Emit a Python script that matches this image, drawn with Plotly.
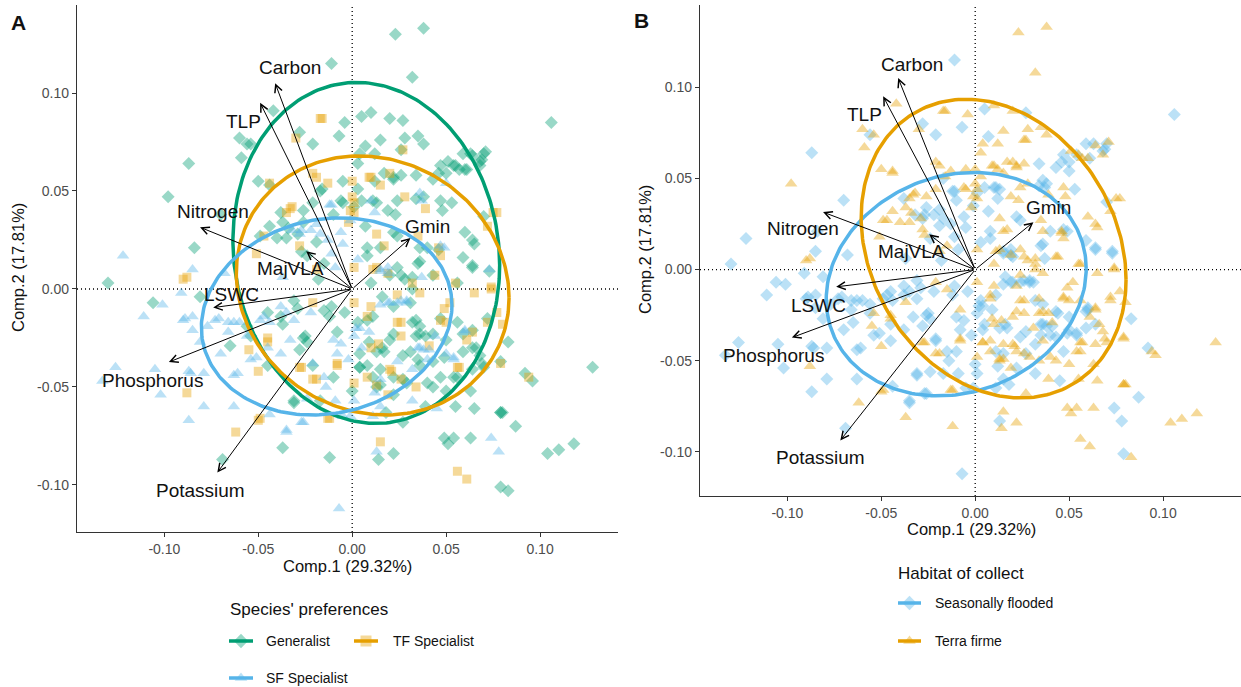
import numpy as np
import plotly.graph_objects as go

# ---------------- data (PC scores) ----------------
# Generalist species: (Comp.1, Comp.2, habitat)  S = seasonally flooded, T = terra firme
gen_points = [
    (-0.087,0.064,'S'),(-0.098,0.047,'T'),(-0.084,0.021,'S'),(-0.130,0.003,'S'),(-0.060,0.077,'T'),
    (-0.056,0.074,'S'),(-0.054,0.074,'T'),(-0.059,0.067,'T'),(-0.050,0.055,'T'),(-0.042,0.091,'T'),
    (-0.028,0.080,'S'),(-0.021,0.074,'S'),(-0.026,0.040,'T'),(-0.038,0.039,'S'),(-0.040,0.026,'T'),
    (-0.035,0.026,'T'),(-0.037,0.034,'T'),
    (-0.106,-0.007,'S'),(-0.081,-0.004,'S'),(-0.037,-0.081,'T'),(-0.031,-0.058,'S'),(-0.069,-0.087,'S'),
    (-0.054,-0.024,'T'),(-0.026,-0.025,'S'),(-0.065,-0.029,'S'),(-0.037,-0.018,'T'),(-0.028,-0.031,'S'),
    (0.128,-0.040,'T'),(0.083,-0.027,'S'),(0.092,-0.043,'S'),(0.096,-0.047,'T'),(0.079,-0.063,'T'),
    (0.087,-0.070,'S'),(0.065,-0.061,'T'),(0.055,-0.060,'T'),(0.049,-0.076,'T'),(0.051,-0.079,'T'),
    (0.063,-0.076,'T'),(0.104,-0.084,'T'),(0.110,-0.082,'T'),(0.118,-0.079,'T'),(0.079,-0.101,'S'),
    (0.083,-0.103,'T'),(0.022,-0.084,'T'),(0.014,-0.087,'T'),(-0.012,-0.086,'T'),(0.032,-0.017,'S'),
    (0.034,-0.024,'T'),(0.020,-0.026,'T'),(0.013,-0.050,'T'),(0.027,-0.046,'S'),(0.047,-0.045,'S'),
    (0.054,-0.045,'T'),(0.043,-0.050,'T'),(0.039,-0.060,'T'),(0.066,-0.030,'T'),(0.069,-0.038,'T'),
    (0.027,-0.068,'T'),(0.018,-0.063,'S'),(0.008,-0.039,'T'),(0.011,-0.045,'S'),(0.004,-0.040,'T'),
    (0.013,-0.032,'S'),(0.009,-0.027,'T'),(0.017,-0.032,'S'),(0.035,-0.036,'S'),(-0.011,-0.009,'S'),
    (-0.004,-0.012,'S'),(-0.015,-0.011,'T'),(-0.025,-0.024,'S'),(0.032,0.000,'T'),
    (0.023,0.130,'T'),(0.038,0.133,'T'),(-0.011,0.115,'S'),(0.032,0.108,'T'),(0.106,0.085,'S'),
    (0.005,0.088,'S'),(0.010,0.090,'T'),(-0.004,0.085,'T'),(0.020,0.087,'T'),(0.027,0.086,'S'),
    (-0.007,0.078,'S'),(0.015,0.076,'T'),(0.028,0.077,'T'),(0.035,0.078,'T'),(0.038,0.074,'T'),
    (0.007,0.073,'S'),(0.012,0.069,'T'),(0.003,0.064,'T'),(0.063,0.069,'S'),(0.071,0.070,'T'),
    (0.069,0.066,'S'),(0.047,0.063,'S'),(0.051,0.065,'T'),(0.054,0.063,'S'),(0.050,0.059,'S'),
    (0.057,0.061,'T'),(0.061,0.061,'S'),(0.017,0.059,'T'),(0.022,0.056,'T'),(0.012,0.055,'T'),
    (0.026,0.058,'T'),(0.034,0.058,'S'),(-0.005,0.055,'T'),(-0.016,0.051,'T'),(0.003,0.051,'T'),
    (-0.005,0.044,'T'),(0.013,0.044,'S'),(0.024,0.045,'T'),(0.034,0.046,'S'),(0.038,0.047,'S'),
    (0.047,0.045,'T'),(0.053,0.044,'S'),(0.048,0.040,'T'),(0.019,0.040,'T'),(0.023,0.038,'T'),
    (0.070,0.037,'S'),(0.064,0.025,'T'),(0.065,0.023,'T'),(0.059,0.016,'S'),(0.064,0.012,'S'),
    (0.040,0.021,'S'),(0.046,0.020,'T'),(0.008,0.021,'S'),(0.035,0.013,'S'),(0.028,0.005,'T'),
    (0.032,0.006,'T'),
    (-0.034,0.031,'T'),(-0.026,0.034,'S'),(-0.029,0.028,'T'),(-0.024,0.017,'S'),(-0.027,0.019,'T'),
    (-0.021,0.044,'T'),(-0.017,0.050,'S'),(-0.019,0.024,'S'),(-0.015,0.013,'T'),(-0.018,0.005,'S'),
    (-0.038,-0.014,'S'),(-0.031,-0.006,'S'),(-0.024,-0.027,'S'),(-0.012,-0.014,'S'),(-0.008,-0.022,'T'),
    (-0.021,-0.039,'S'),(-0.045,-0.039,'S'),(0.003,-0.017,'S'),(0.008,-0.016,'T'),(0.011,-0.014,'S'),
    (0.004,-0.033,'S'),(0.004,-0.040,'T'),(0.015,-0.049,'T'),(0.024,0.011,'T'),(0.020,0.007,'S'),
    (0.036,0.021,'T'),(0.036,-0.019,'S'),(0.039,-0.024,'T'),(0.049,-0.035,'S'),(0.056,-0.045,'T'),
    (0.064,-0.021,'T'),(0.059,-0.032,'S'),(0.070,-0.040,'T'),(0.080,-0.063,'T'),(0.060,0.029,'T'),
    (0.064,0.011,'S'),(0.068,0.063,'T'),(0.070,0.069,'S'),(0.055,0.063,'T'),(0.060,0.061,'T'),
    (0.064,0.068,'T'),(0.046,0.059,'S'),(0.022,0.057,'T'),(0.005,0.045,'S'),(0.007,0.032,'S'),
    (0.008,0.017,'S'),(0.015,0.021,'T'),(0.022,0.029,'S'),(0.016,-0.004,'S'),(0.022,-0.009,'T'),
    (0.031,-0.007,'S'),(0.034,-0.016,'T'),
    (0.015,-0.041,'T'),(0.031,-0.032,'T'),(0.036,-0.039,'T'),(0.040,-0.048,'T'),(0.050,-0.052,'T'),
    (0.064,-0.041,'T'),(0.068,-0.034,'T'),(0.079,-0.037,'T'),(0.063,-0.052,'T'),(0.079,-0.063,'T'),
    (0.054,-0.076,'T'),(0.029,-0.048,'T'),(0.022,-0.045,'T'),(0.022,-0.023,'T'),(0.036,-0.023,'T'),
    (0.047,-0.015,'T'),(0.056,-0.017,'T'),(0.072,-0.015,'T'),
    (0.016,-0.030,'S'),(0.027,-0.034,'S'),(0.043,-0.023,'S'),(0.050,-0.026,'S'),(0.059,-0.023,'S'),
    (0.064,-0.030,'S'),(0.043,-0.037,'S'),(0.022,-0.054,'S'),(0.000,-0.052,'S'),(-0.010,-0.045,'S'),
    (-0.029,-0.010,'S'),(-0.045,-0.012,'S'),(-0.056,-0.019,'S'),(-0.031,-0.057,'S'),(-0.017,-0.057,'S'),
    (0.026,0.071,'T'),(0.004,0.069,'T'),(-0.006,0.045,'T'),(-0.044,0.032,'T'),(-0.049,0.027,'T'),
    (0.010,0.003,'T'),(0.026,0.007,'T'),(0.043,0.007,'T'),(0.056,0.003,'T'),(-0.044,0.053,'T'),
    (0.043,0.056,'S'),(0.011,0.045,'S'),(0.001,0.042,'S'),(-0.010,0.038,'S'),(-0.070,0.038,'S'),
    (0.024,0.027,'S'),(0.036,0.014,'S'),(0.073,0.009,'S'),(0.059,0.069,'S'),(0.068,0.065,'S'),
]

# Terra-firme specialists (all collected in terra firme)
tf_points = [
    (-0.090,0.005),(-0.044,0.054),(-0.032,0.042),(-0.035,0.039),(-0.030,0.077),(-0.017,0.087),
    (-0.051,0.018),(-0.047,0.027),(-0.019,0.057),(-0.055,-0.031),(-0.050,-0.042),(-0.088,-0.053),
    (-0.050,-0.067),(-0.062,-0.073),(-0.045,-0.027),(-0.027,-0.040),(0.056,-0.093),(0.061,-0.097),
    (0.015,-0.078),(0.094,-0.045),(0.079,-0.038),(0.064,-0.022),(0.061,-0.026),(0.057,-0.040),
    (0.080,-0.018),(0.072,-0.017),(0.077,-0.012),(0.047,-0.016),(0.050,-0.017),(0.049,-0.010),
    (0.041,-0.029),(0.026,-0.017),(0.026,-0.024),(0.021,-0.042),(0.026,-0.046),(0.034,-0.050),
    (0.014,-0.028),(0.010,-0.009),(0.008,-0.014),(0.001,-0.007),(-0.012,-0.066),(-0.008,-0.039),
    (0.001,-0.048),(0.019,-0.054),(-0.021,-0.046),(0.074,0.001),(0.065,-0.002),(0.024,-0.003),
    (0.055,0.003),(-0.016,0.087),(0.027,0.071),(0.020,0.059),(0.010,0.057),(-0.013,0.054),
    (0.000,0.055),(0.028,0.047),(0.039,0.041),(0.077,0.039),(0.072,0.032),(0.035,0.027),
    (0.017,0.022),(0.046,0.021),(0.047,0.017),(0.013,0.028),(0.044,0.007),(0.001,0.011),
    (0.013,0.011),(-0.021,0.059),(-0.001,0.040),(0.019,0.008),(-0.028,0.022),(-0.019,0.010),
    (-0.033,0.041),(0.000,0.047),(0.001,0.044),(0.001,0.039),(-0.002,0.034),(0.009,0.057),
    (0.015,0.053),(0.075,0.039),(0.074,0.000),(0.052,-0.007),(0.024,-0.017),(0.032,0.003),
    (0.036,-0.002),(0.011,0.010),(0.008,-0.045),(0.013,-0.049),(0.020,-0.041),(0.010,-0.030),
    (-0.019,-0.046),(-0.008,-0.038),(-0.028,-0.040),(-0.045,-0.025),(-0.049,-0.066),(-0.013,-0.066),
    (-0.088,0.006),(0.056,-0.040),(-0.021,-0.007),
]

# Seasonally-flooded specialists (all collected in seasonally flooded forest)
sf_points = [
    (-0.122,0.017),(-0.085,0.010),(-0.091,-0.002),(-0.068,0.008),(-0.027,0.030),(-0.111,-0.014),
    (-0.101,-0.008),(-0.089,-0.015),(-0.085,-0.021),(-0.081,-0.027),(-0.126,-0.040),(-0.133,-0.047),
    (-0.105,-0.041),(-0.102,-0.054),(-0.086,-0.043),(-0.079,-0.060),(-0.087,-0.067),(-0.063,-0.044),
    (-0.071,-0.015),(-0.066,-0.017),(-0.051,-0.035),(-0.056,-0.024),(-0.044,-0.064),(-0.035,-0.072),
    (-0.027,-0.068),(-0.060,-0.017),(-0.049,-0.016),(-0.045,-0.030),(0.074,-0.076),(0.078,-0.083),
    (-0.007,-0.112),(0.013,-0.083),(0.060,-0.022),(0.044,-0.024),(0.050,-0.033),(0.054,-0.035),
    (0.045,-0.061),(-0.006,-0.028),(-0.002,-0.036),(0.005,-0.030),(0.002,-0.020),(0.009,-0.022),
    (0.019,-0.007),(0.024,-0.007),(0.029,-0.006),(0.038,-0.031),(0.035,-0.030),(0.024,-0.037),
    (0.015,-0.046),(0.012,-0.053),(0.001,-0.057),(-0.005,-0.065),(-0.009,-0.057),(-0.014,-0.050),
    (-0.021,-0.038),(-0.026,-0.068),(0.032,-0.057),(0.036,0.049),(0.037,0.045),(0.050,0.054),
    (-0.011,0.043),(0.010,0.045),(0.012,0.039),(-0.001,0.035),(0.049,0.021),(0.047,0.022),
    (0.073,0.010),(0.003,0.015),(0.015,0.010),(0.019,0.011),(-0.006,0.029),(-0.005,0.023),
    (0.037,0.006),(-0.032,0.030),(-0.028,0.028),(-0.022,0.030),(-0.017,0.028),(-0.013,0.025),
    (-0.011,0.018),(-0.009,0.011),(-0.037,0.006),(-0.038,-0.009),(-0.035,-0.012),(-0.031,-0.016),
    (-0.047,-0.014),(-0.044,-0.017),(-0.022,-0.012),(-0.063,-0.017),(-0.066,-0.022),(-0.090,-0.016),
    (-0.085,-0.014),(-0.077,-0.019),(-0.073,-0.016),(-0.070,-0.033),(-0.054,-0.036),(-0.061,-0.043),
    (-0.038,-0.033),(-0.033,-0.026),(-0.010,-0.026),(-0.008,-0.033),(0.001,-0.024),(0.004,-0.020),
    (0.015,-0.008),(0.020,-0.007),(0.026,-0.006),(0.015,0.009),(0.019,0.008),(-0.012,0.043),
    (-0.019,0.033),(0.029,-0.007),(0.036,-0.030),(0.041,-0.031),(0.040,-0.036),(0.054,-0.036),
    (0.060,-0.021),(-0.063,-0.060),(-0.079,-0.043),(-0.087,-0.042),(-0.035,-0.073),(-0.001,-0.065),
    (0.015,-0.060),(0.011,-0.065),(0.032,-0.041),(-0.015,-0.045),(-0.024,-0.056),
]

# Variable loadings (arrow tips) and label positions
var_names = ["Carbon", "TLP", "Nitrogen", "MajVLA", "LSWC", "Phosphorus", "Potassium", "Gmin"]
load_pc1 = [-0.041, -0.049, -0.081, -0.0245, -0.074, -0.0976, -0.0718, 0.031]
load_pc2 = [0.105, 0.095, 0.0315, 0.0193, -0.0095, -0.0373, -0.0937, 0.026]
labA_pc1 = [-0.033, -0.058, -0.074, -0.033, -0.0640, -0.1064, -0.0809, 0.0399]
labA_pc2 = [0.1128, 0.0857, 0.0393, 0.0107, -0.0026, -0.0469, -0.1030, 0.0321]
labB_pc1 = [-0.0335, -0.059, -0.0915, -0.034, -0.0835, -0.1074, -0.0824, 0.0388]
labB_pc2 = [0.1126, 0.0852, 0.0225, 0.0099, -0.0198, -0.0473, -0.1033, 0.0341]

# Normal data ellipses: centre, half-width, half-height, covariance term
ellA_names = ["Generalist", "TF Specialist", "SF Specialist"]
ellA_cx = [0.0075, 0.0109, -0.0136]
ellA_cy = [0.0184, 0.0018, -0.0140]
ellA_sx = [0.0710, 0.0726, 0.0667]
ellA_sy = [0.0870, 0.0661, 0.0503]
ellA_sxy = [-0.00044, -0.00046, 0.00038]
ellB_names = ["Seasonally flooded", "Terra firme"]
ellB_cx = [-0.0101, 0.0098]
ellB_cy = [-0.0080, 0.0115]
ellB_sx = [0.0692, 0.0705]
ellB_sy = [0.0613, 0.0819]
ellB_sxy = [0.00058, -0.0012]

tick_vals = [-0.10, -0.05, 0.00, 0.05, 0.10]
tick_text = ["-0.10", "-0.05", "0.00", "0.05", "0.10"]
x_title = "Comp.1 (29.32%)"
y_title = "Comp.2 (17.81%)"

# ---------------- styling ----------------
W, H = 1241, 687
GREEN, ORANGE, BLUE = "#009E73", "#E69F00", "#56B4E9"
FONT = "Liberation Sans, Arial, sans-serif"
XR = [-0.1465, 0.1415]
YR_A = [-0.1240, 0.1449]
YR_B = [-0.1242, 0.1451]
PT_OP = 0.40
SZ_D, SZ_S, SZ_T = 10, 9, 11


def ellipse(cx, cy, sx, sy, sxy, n=240):
    S = np.array([[sx ** 2, sxy], [sxy, sy ** 2]])
    L = np.linalg.cholesky(S)
    t = np.linspace(0, 2 * np.pi, n)
    p = L @ np.vstack([np.cos(t), np.sin(t)])
    return cx + p[0], cy + p[1]


fig = go.Figure()

gx = [p[0] for p in gen_points]; gy = [p[1] for p in gen_points]
tx = [p[0] for p in tf_points]; ty = [p[1] for p in tf_points]
sx_ = [p[0] for p in sf_points]; sy_ = [p[1] for p in sf_points]

# Panel A points
fig.add_trace(go.Scatter(x=gx, y=gy, mode="markers", xaxis="x", yaxis="y",
                         marker=dict(symbol="diamond", size=SZ_D, color=GREEN, opacity=PT_OP, line=dict(width=0))))
fig.add_trace(go.Scatter(x=tx, y=ty, mode="markers", xaxis="x", yaxis="y",
                         marker=dict(symbol="square", size=SZ_S, color=ORANGE, opacity=PT_OP, line=dict(width=0))))
fig.add_trace(go.Scatter(x=sx_, y=sy_, mode="markers", xaxis="x", yaxis="y",
                         marker=dict(symbol="triangle-up", size=SZ_T, color=BLUE, opacity=PT_OP, line=dict(width=0))))

# Panel B points: by habitat of collection
bS_x = [p[0] for p in gen_points if p[2] == 'S'] + sx_
bS_y = [p[1] for p in gen_points if p[2] == 'S'] + sy_
bT_x = [p[0] for p in gen_points if p[2] == 'T'] + tx
bT_y = [p[1] for p in gen_points if p[2] == 'T'] + ty
fig.add_trace(go.Scatter(x=bS_x, y=bS_y, mode="markers", xaxis="x2", yaxis="y2",
                         marker=dict(symbol="diamond", size=SZ_D, color=BLUE, opacity=PT_OP, line=dict(width=0))))
fig.add_trace(go.Scatter(x=bT_x, y=bT_y, mode="markers", xaxis="x2", yaxis="y2",
                         marker=dict(symbol="triangle-up", size=SZ_T, color=ORANGE, opacity=PT_OP, line=dict(width=0))))

# Ellipses
for i, col in enumerate([GREEN, ORANGE, BLUE]):
    ex, ey = ellipse(ellA_cx[i], ellA_cy[i], ellA_sx[i], ellA_sy[i], ellA_sxy[i])
    fig.add_trace(go.Scatter(x=ex, y=ey, mode="lines", xaxis="x", yaxis="y",
                             line=dict(color=col, width=3.5)))
for i, col in enumerate([BLUE, ORANGE]):
    ex, ey = ellipse(ellB_cx[i], ellB_cy[i], ellB_sx[i], ellB_sy[i], ellB_sxy[i])
    fig.add_trace(go.Scatter(x=ex, y=ey, mode="lines", xaxis="x2", yaxis="y2",
                             line=dict(color=col, width=3.5)))

annotations = []
# Arrows + labels
for (xa, ya, lx, ly) in [("x", "y", labA_pc1, labA_pc2), ("x2", "y2", labB_pc1, labB_pc2)]:
    for i, nm in enumerate(var_names):
        annotations.append(dict(x=load_pc1[i], y=load_pc2[i], ax=0, ay=0, xref=xa, yref=ya,
                                axref=xa, ayref=ya, text="", showarrow=True, arrowhead=5,
                                arrowsize=1.5, arrowwidth=1, arrowcolor="black", standoff=0))
        annotations.append(dict(x=lx[i], y=ly[i], xref=xa, yref=ya, text=nm, showarrow=False,
                                xanchor="center", yanchor="middle",
                                font=dict(family=FONT, size=19, color="#111111")))


def pann(px, py, text, size, anchor="center", bold=False, angle=0, color="#111111"):
    annotations.append(dict(x=px / W, y=1 - py / H, xref="paper", yref="paper", text=text,
                            showarrow=False, xanchor=anchor, yanchor="middle", textangle=angle,
                            font=dict(family=FONT, size=size, color=color)))


# axis titles
pann(347, 566, x_title, 16.5)
pann(971, 529, x_title, 16.5)
pann(18, 268, y_title, 16.5, angle=-90)
pann(645, 250, y_title, 16.5, angle=-90)
# panel letters
pann(18, 22, "<b>A</b>", 21)
pann(641, 20, "<b>B</b>", 21)
# legends
pann(228, 609, "Species' preferences", 17, anchor="left")
pann(264, 641, "Generalist", 14, anchor="left")
pann(391, 641, "TF Specialist", 14, anchor="left")
pann(264, 678, "SF Specialist", 14, anchor="left")
pann(896, 573, "Habitat of collect", 17, anchor="left")
pann(933, 603, "Seasonally flooded", 14, anchor="left")
pann(933, 641, "Terra firme", 14, anchor="left")

# legend keys drawn on a full-figure pixel axis
keys = [(229, 253, 641, GREEN, "diamond"), (354, 378, 641, ORANGE, "square"),
        (229, 253, 678, BLUE, "triangle-up"), (898, 921, 603, BLUE, "diamond"),
        (898, 921, 641, ORANGE, "triangle-up")]
for x0, x1, yk, col, sym in keys:
    fig.add_trace(go.Scatter(x=[(x0 + x1) / 2], y=[yk], mode="markers", xaxis="x3", yaxis="y3",
                             marker=dict(symbol=sym, size=11, color=col, opacity=0.4, line=dict(width=0))))
    fig.add_trace(go.Scatter(x=[x0, x1], y=[yk, yk], mode="lines", xaxis="x3", yaxis="y3",
                             line=dict(color=col, width=3.5)))

shapes = []
for xa, ya in [("x", "y"), ("x2", "y2")]:
    shapes.append(dict(type="line", xref=xa, yref=ya + " domain", x0=0, x1=0, y0=0, y1=1,
                       line=dict(color="black", width=1.3, dash="1px,3px"), layer="below"))
    shapes.append(dict(type="line", xref=xa + " domain", yref=ya, x0=0, x1=1, y0=0, y1=0,
                       line=dict(color="black", width=1.3, dash="1px,3px"), layer="below"))

ax_common = dict(showgrid=False, zeroline=False, showline=True, linecolor="#333333", linewidth=1.4,
                 ticks="outside", ticklen=4, tickwidth=1, tickcolor="#333333",
                 tickvals=tick_vals, ticktext=tick_text,
                 tickfont=dict(family=FONT, size=14, color="#4d4d4d"), fixedrange=True)

fig.update_layout(
    width=W, height=H, margin=dict(l=0, r=0, t=0, b=0),
    paper_bgcolor="white", plot_bgcolor="rgba(0,0,0,0)", showlegend=False,
    font=dict(family=FONT),
    xaxis=dict(domain=[77 / W, 618 / W], range=XR, anchor="y", **ax_common),
    yaxis=dict(domain=[(H - 532) / H, (H - 5) / H], range=YR_A, anchor="x", **ax_common),
    xaxis2=dict(domain=[700 / W, 1.0], range=XR, anchor="y2", **ax_common),
    yaxis2=dict(domain=[(H - 496) / H, (H - 5) / H], range=YR_B, anchor="x2", **ax_common),
    xaxis3=dict(domain=[0, 1], range=[0, W], visible=False, anchor="y3", fixedrange=True),
    yaxis3=dict(domain=[0, 1], range=[H, 0], visible=False, anchor="x3", fixedrange=True),
    annotations=annotations, shapes=shapes,
)

fig.write_html("out.html")
